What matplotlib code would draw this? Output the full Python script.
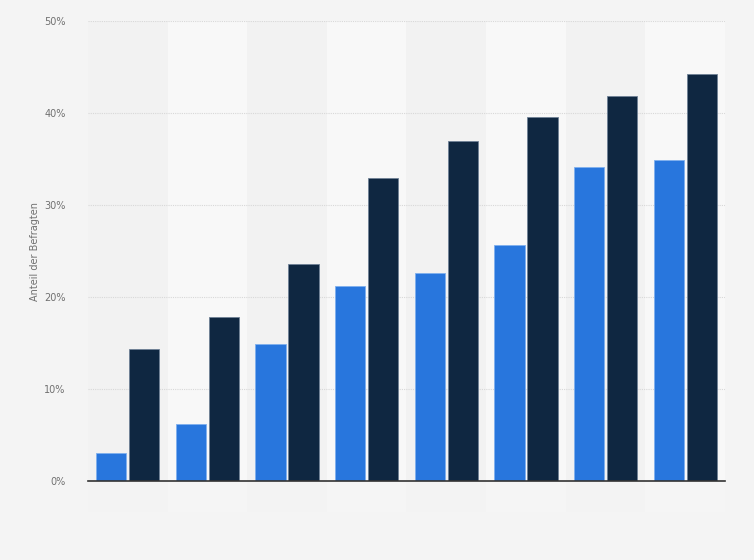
import matplotlib.pyplot as plt
import numpy as np

# eight unlabeled groups, two series each (values in %)
groups = list(range(8))
series_a = [3.0, 6.2, 14.9, 21.2, 22.6, 25.7, 34.1, 34.9]
series_b = [14.4, 17.8, 23.6, 32.9, 37.0, 39.6, 41.9, 44.2]
yticks = [0, 10, 20, 30, 40, 50]

blue = '#2876dd'
navy = '#0f2741'

fig = plt.figure(figsize=(7.54, 5.6), dpi=100)
fig.patch.set_facecolor('#f4f4f4')
ax = fig.add_axes([0.1167, 0.141, 0.8448, 0.8215])
ax.set_facecolor('#f4f4f4')

x = np.arange(len(groups))
# alternating column bands, fading out a bit below the axis like the original
for i in x:
    col = '#f2f2f2' if i % 2 == 0 else '#f8f8f8'
    ax.axvspan(i - 0.5, i + 0.5, ymin=0, ymax=1, color=col, zorder=0, lw=0)
    col2 = '#f3f3f3' if i % 2 == 0 else '#f5f5f5'
    ax.axvspan(i - 0.5, i + 0.5, ymin=-0.067, ymax=0, color=col2, zorder=0,
               lw=0, clip_on=False)

for y in yticks[1:]:
    ax.axhline(y, color='#d8d8d8', lw=0.8, ls=(0, (1, 1)), zorder=1)

w = 0.38
ax.bar(x - 0.207, series_a, w, color=blue, edgecolor='#7fb0ee', lw=0.6, zorder=2)
ax.bar(x + 0.207, series_b, w, color=navy, edgecolor='#6f8196', lw=0.6, zorder=2)

ax.set_xlim(-0.5, len(groups) - 0.5)
ax.set_ylim(0, 50)
ax.set_yticks(yticks)
ax.set_yticklabels([f'{v}%' for v in yticks], color='#707070', fontsize=7)
ax.tick_params(axis='y', length=0, pad=16)
ax.set_xticks([])
for s in ['top', 'right', 'left']:
    ax.spines[s].set_visible(False)
ax.spines['bottom'].set_color('#333333')
ax.spines['bottom'].set_linewidth(1.2)
ax.spines['bottom'].set_zorder(3)

ax.set_ylabel('Anteil der Befragten', color='#707070', fontsize=7)
ax.yaxis.set_label_coords(-0.076, 0.5)

plt.savefig('out.png', dpi=100, facecolor=fig.get_facecolor())
